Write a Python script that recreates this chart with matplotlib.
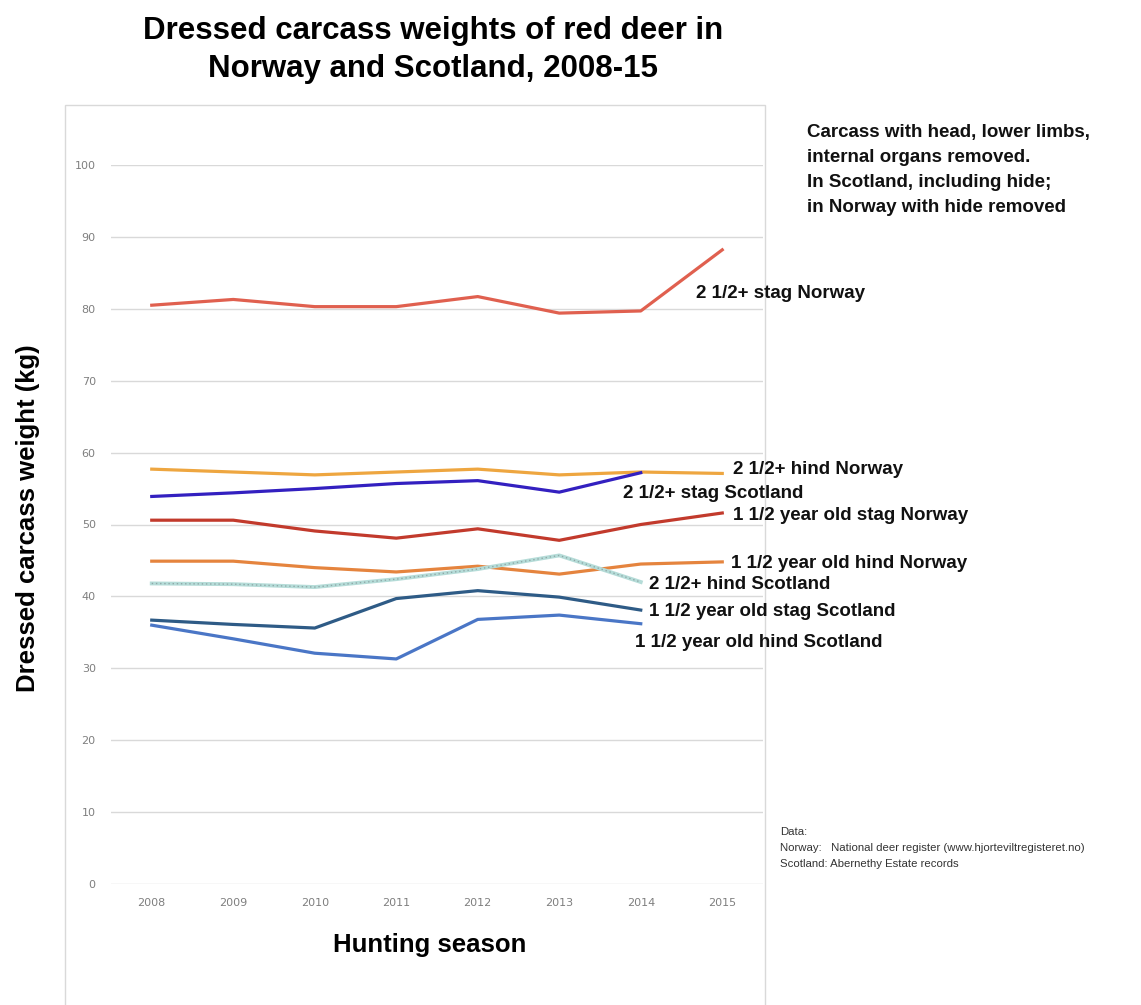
import matplotlib
matplotlib.use("Agg")
import matplotlib.pyplot as plt
from matplotlib.patches import Rectangle
from matplotlib import font_manager

years = [2008, 2009, 2010, 2011, 2012, 2013, 2014, 2015]

stag_norway = [80.5, 81.3, 80.3, 80.3, 81.7, 79.4, 79.7, 88.2]
hind_norway = [57.7, 57.3, 56.9, 57.3, 57.7, 56.9, 57.3, 57.1]
stag_scotland = [53.9, 54.4, 55.0, 55.7, 56.1, 54.5, 57.2]
yl_stag_norway = [50.6, 50.6, 49.1, 48.1, 49.4, 47.8, 50.0, 51.6]
yl_hind_norway = [44.9, 44.9, 44.0, 43.4, 44.2, 43.1, 44.5, 44.8]
hind_scotland = [41.8, 41.7, 41.3, 42.4, 43.8, 45.7, 42.0]
yl_stag_scotland = [36.7, 36.1, 35.6, 39.7, 40.8, 39.9, 38.1]
yl_hind_scotland = [36.0, 34.1, 32.1, 31.3, 36.8, 37.4, 36.2]

y_ticks = [0, 10, 20, 30, 40, 50, 60, 70, 80, 90, 100]

W, H = 1141, 1005
fig = plt.figure(figsize=(W / 100, H / 100), dpi=100)

avail = {f.name for f in font_manager.fontManager.ttflist}
narrow = "Liberation Sans Narrow" if "Liberation Sans Narrow" in avail else "Liberation Sans"
fam = [narrow, "DejaVu Sans"]

def fx(px):
    return px / W

def fy(py):
    return 1 - py / H

# chart-area border
fig.patches.append(Rectangle((fx(65), fy(1010)), fx(765) - fx(65), fy(105) - fy(1010),
                             transform=fig.transFigure, fill=False,
                             edgecolor="#d9d9d9", linewidth=1.0))

ax = fig.add_axes([fx(111), fy(884), fx(763) - fx(111), fy(165) - fy(884)])
ax.set_xlim(2007.5, 2015.5)
ax.set_ylim(0, 100)
for s in ax.spines.values():
    s.set_visible(False)
ax.set_yticks(y_ticks)
ax.set_xticks(years)
ax.set_xticklabels([str(y) for y in years])
ax.tick_params(axis="both", length=0, labelsize=8, labelcolor="#7f7f7f")
ax.tick_params(axis="x", pad=10)
ax.tick_params(axis="y", pad=11)
ax.grid(axis="y", color="#d9d9d9", linewidth=1.0)
ax.set_axisbelow(True)

lw = 2.3
ax.plot(years, stag_norway, color="#e0604f", lw=lw)
ax.plot(years, hind_norway, color="#eea640", lw=lw)
ax.plot(years[:7], stag_scotland, color="#3320c0", lw=lw)
ax.plot(years, yl_stag_norway, color="#c23a2c", lw=lw)
ax.plot(years, yl_hind_norway, color="#e5843e", lw=lw)
ax.plot(years[:7], hind_scotland, color="#b5dcd8", lw=lw + 0.5)
ax.plot(years[:7], hind_scotland, color="#8fa8a8", lw=1.0, linestyle=(0, (1, 2)))
ax.plot(years[:7], yl_stag_scotland, color="#2e5b86", lw=lw)
ax.plot(years[:7], yl_hind_scotland, color="#4a76c6", lw=lw)

lab_kw = dict(fontsize=13.5, fontweight="bold", family=fam,
              color="#111111", va="center", ha="left", transform=fig.transFigure)
labels = [
    ("2 1/2+ stag Norway", 696, 293),
    ("2 1/2+ hind Norway", 733, 469),
    ("2 1/2+ stag Scotland", 623, 493),
    ("1 1/2 year old stag Norway", 733, 515),
    ("1 1/2 year old hind Norway", 731, 563),
    ("2 1/2+ hind Scotland", 649, 584),
    ("1 1/2 year old stag Scotland", 649, 611),
    ("1 1/2 year old hind Scotland", 635, 642),
]
for t, x, y in labels:
    fig.text(fx(x), fy(y), t, **lab_kw)

fig.text(fx(433), fy(50), "Dressed carcass weights of red deer in\nNorway and Scotland, 2008-15",
         ha="center", va="center", fontsize=22.5, fontweight="bold",
         family=fam, linespacing=1.35)

fig.text(fx(28), fy(518), "Dressed carcass weight (kg)", rotation=90, ha="center", va="center",
         fontsize=18.5, fontweight="bold", family=fam)
fig.text(fx(430), fy(945), "Hunting season", ha="center", va="center",
         fontsize=18.5, fontweight="bold", family=fam)

fig.text(fx(807), fy(170), "Carcass with head, lower limbs,\ninternal organs removed.\nIn Scotland, including hide;\nin Norway with hide removed",
         ha="left", va="center", fontsize=13.5, fontweight="bold",
         family=fam, linespacing=1.6, color="#111111")

fig.text(fx(780), fy(848), "Data:\nNorway:   National deer register (www.hjorteviltregisteret.no)\nScotland: Abernethy Estate records",
         ha="left", va="center", fontsize=8.2, family=fam,
         linespacing=1.75, color="#333333")

fig.savefig("out.png", dpi=100, facecolor="white")
